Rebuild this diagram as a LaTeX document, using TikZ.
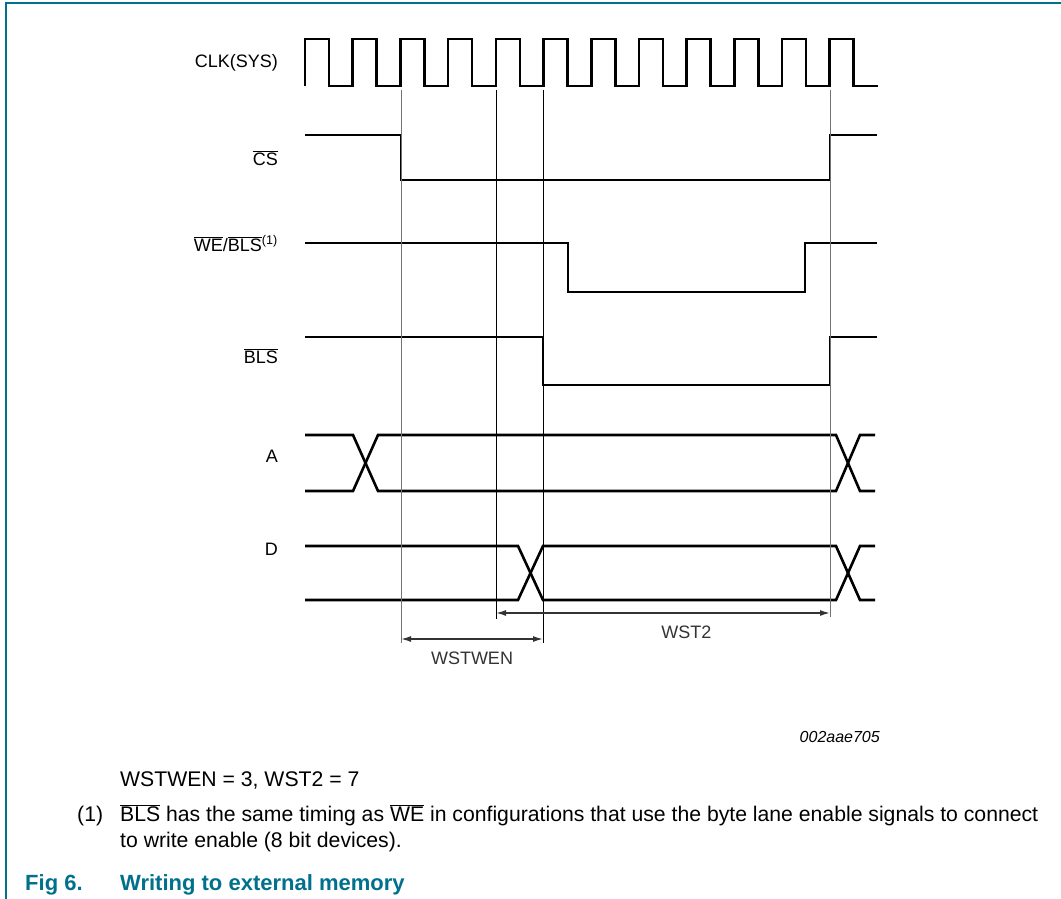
\documentclass[tikz,border=0pt]{standalone}
\usepackage{fontspec}
\setmainfont{Liberation Sans}
\usetikzlibrary{arrows.meta,positioning}
\definecolor{nxpteal}{RGB}{0,112,140}
\newcommand{\sigbar}[1]{$\overline{\hbox{#1}}$}
\begin{document}
\begin{tikzpicture}[x=1pt, y=-1pt,
    sig/.style={line width=2.6pt, line join=miter},
    guide/.style={line width=0.9pt, black},
    guidegray/.style={line width=0.9pt, black!55},
    dim/.style={line width=1.5pt, black!80, {Latex[length=10pt,width=6pt]}-{Latex[length=10pt,width=6pt]}},
    lab/.style={anchor=base east, inner sep=0pt, font=\fontsize{18}{22}\selectfont},
    dimlab/.style={inner sep=0pt, font=\fontsize{18}{22}\selectfont},
    note/.style={anchor=base west, inner sep=0pt, font=\fontsize{21.2}{26}\selectfont}]
    \useasboundingbox (0,0) rectangle (1061,899);
    % frame
    \draw[nxpteal, line width=1.2pt] (1061,3) -- (6,3) -- (6,899);
    % signal names
    \node[lab] (clk) at (278,67) {CLK(SYS)};
    \node[lab] (cs) at (278,165) {\sigbar{CS}};
    \node[lab] (we) at (278,251) {\sigbar{WE}/\sigbar{BLS}\textsuperscript{(1)}};
    \node[lab] (bls) at (278,363) {\sigbar{BLS}};
    \node[lab] (a) at (278,462) {A};
    \node[lab] (d) at (278,555) {D};
    % clock
    \draw[sig] (305,86) \foreach \i in {0,...,11} {
        -- ({305+47.7*\i},86) -- ({305+47.7*\i},39)
        -- ({329+47.7*\i},39) -- ({329+47.7*\i},86)} -- (878,86);
    % control lines
    \draw[sig] (305,135) -- (401,135) -- (401,180) -- (830,180) -- (830,135) -- (877,135);
    \draw[sig] (305,243) -- (568,243) -- (568,292) -- (805,292) -- (805,243) -- (877,243);
    \draw[sig] (305,337) -- (543,337) -- (543,385) -- (830,385) -- (830,337) -- (877,337);
    % address and data
    \draw[sig] (305,435) -- (353,435) -- (378,491) -- (836,491) -- (860,435) -- (875,435);
    \draw[sig] (305,491) -- (353,491) -- (378,435) -- (836,435) -- (860,491) -- (875,491);
    \draw[sig] (305,546) -- (518,546) -- (543,600) -- (836,600) -- (860,546) -- (875,546);
    \draw[sig] (305,600) -- (518,600) -- (543,546) -- (836,546) -- (860,600) -- (875,600);
    % guide lines
    \coordinate (g1t) at (401,90);  \coordinate (g1b) at (401,643);
    \coordinate (g2t) at (496,90);  \coordinate (g2b) at (496,619);
    \coordinate (g3t) at (543,90);  \coordinate (g3b) at (543,643);
    \coordinate (g4t) at (830,90);  \coordinate (g4b) at (830,617);
    \draw[guidegray] (g1t) -- (g1b);
    \draw[guide] (g2t) -- (g2b);
    \draw[guide] (g3t) -- (g3b);
    \draw[guidegray] (g4t) -- (g4b);
    % wait states
    \coordinate (wena) at (401,639); \coordinate (wenb) at (543,639);
    \coordinate (wsta) at (496,613); \coordinate (wstb) at (830,613);
    \draw[dim] (wsta) -- node[dimlab, pos=0.57, below=12pt] (wst2) {WST2} (wstb);
    \draw[dim] (wena) -- node[dimlab, below=12pt] (wsten) {WSTWEN} (wenb);
    % notes
    \node[anchor=base east, inner sep=0pt, font=\fontsize{16}{20}\selectfont\itshape] (fig id) at (880,742) {002aae705};
    \node[note] (values) at (120,786) {WSTWEN = 3, WST2 = 7};
    \node[note] (n1) at (77,821) {(1)};
    \node[note] (n1a) at (120,821) {\sigbar{BLS} has the same timing as \sigbar{WE} in configurations that use the byte lane enable signals to connect};
    \node[note] (n1b) at (120,847) {to write enable (8 bit devices).};
    \node[anchor=base west, inner sep=0pt, text=nxpteal, font=\fontsize{22}{26}\selectfont\bfseries] (fig) at (25,890) {Fig 6.};
    \node[anchor=base west, inner sep=0pt, text=nxpteal, font=\fontsize{22}{26}\selectfont\bfseries] (title) at (120,890) {Writing to external memory};
\end{tikzpicture}
\end{document}
